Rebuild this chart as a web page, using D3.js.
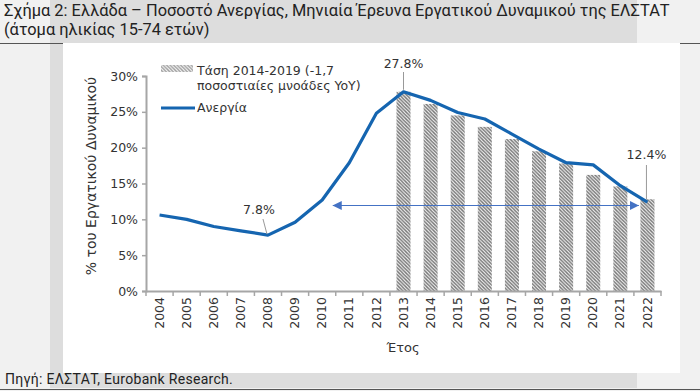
<!DOCTYPE html>
<html><head><meta charset="utf-8">
<script src="https://cdn.jsdelivr.net/npm/d3@7"></script>
<style>body{margin:0;background:#f1f1f1;}svg{display:block;}</style>
</head><body>
<svg id="c" width="700" height="391"></svg>
<script>
const years = ["2004","2005","2006","2007","2008","2009","2010","2011","2012","2013","2014","2015","2016","2017","2018","2019","2020","2021","2022"];
const unemployment = [10.6,10.0,9.0,8.4,7.8,9.6,12.7,17.9,24.8,27.8,26.6,24.9,24.0,21.9,19.8,17.9,17.6,14.7,12.4];
const trendYears = ["2013","2014","2015","2016","2017","2018","2019","2020","2021","2022"];
const trendValues = [27.8,26.1,24.5,22.9,21.2,19.5,17.8,16.2,14.6,12.8];
const yTicks = [0,5,10,15,20,25,30];
const titleLines = ["Σχήμα 2: Ελλάδα – Ποσοστό Ανεργίας, Μηνιαία Έρευνα Εργατικού Δυναμικού της ΕΛΣΤΑΤ","(άτομα ηλικίας 15-74 ετών)"];
const legendLabels = ["Τάση 2014-2019 (-1,7","ποσοστιαίες μνοάδες YoY)","Ανεργία"];
const annotations = [{year:"2013",value:27.8,label:"27.8%"},{year:"2008",value:7.8,label:"7.8%"},{year:"2022",value:12.4,label:"12.4%"}];
const arrowSpan = {from:"2011", to:"2021", value:12.0};

const svg = d3.select("#c");
const font = "DejaVu Sans, sans-serif";

// background pieces
svg.append("rect").attr("x",0).attr("y",0).attr("width",700).attr("height",391).attr("fill","#f1f1f1");
svg.append("rect").attr("x",50).attr("y",0).attr("width",587).attr("height",388).attr("fill","#dddddd");
svg.append("rect").attr("x",63).attr("y",43).attr("width",617).attr("height",330).attr("fill","#ffffff");
svg.append("line").attr("x1",0).attr("x2",63).attr("y1",43.5).attr("y2",43.5).attr("stroke","#555").attr("stroke-width",1);
svg.append("line").attr("x1",680).attr("x2",700).attr("y1",43.5).attr("y2",43.5).attr("stroke","#555").attr("stroke-width",1);
svg.append("line").attr("x1",0).attr("x2",700).attr("y1",389.5).attr("y2",389.5).attr("stroke","#555").attr("stroke-width",1);

// title
svg.append("g").selectAll("text").data(titleLines).join("text")
  .attr("x",4).attr("y",(d,i)=>15.5+i*19.5).attr("font-family","Roboto, sans-serif").attr("font-size",16.4)
  .attr("fill","#222").text(d=>d);
svg.append("text").attr("x",5).attr("y",384).attr("font-family","Roboto, sans-serif").attr("font-size",14)
  .attr("letter-spacing",0.3).attr("fill","#222").text("Πηγή: ΕΛΣΤΑΤ, Eurobank Research.");

const defs = svg.append("defs");
const pat = defs.append("pattern").attr("id","hatch").attr("patternUnits","userSpaceOnUse").attr("width",3.5).attr("height",3.5);
pat.append("path").attr("d","M0,0 L3.5,3.5 M-1,2.5 L1,4.5 M2.5,-1 L4.5,1").attr("stroke","#767676").attr("stroke-width",1.4);
const mk = (id, orient) => defs.append("marker").attr("id",id).attr("viewBox","0 0 10 10").attr("refX",10).attr("refY",5)
  .attr("markerWidth",9).attr("markerHeight",9).attr("markerUnits","userSpaceOnUse").attr("orient",orient)
  .append("path").attr("d","M0,0 L10,5 L0,10 z").attr("fill","#4472c4");
mk("arrEnd","auto"); mk("arrStart","auto-start-reverse");

const x = d3.scaleBand().domain(years).range([146,661]);
const y = d3.scaleLinear().domain([0,30]).range([291,76]);
const cx = d => x(d)+x.bandwidth()/2;

// bars
const bw = 14;
svg.append("g").selectAll("rect").data(trendYears.map((d,i)=>({year:d,v:trendValues[i]}))).join("rect")
  .attr("x",d=>cx(d.year)-bw/2).attr("width",bw).attr("y",d=>y(d.v)).attr("height",d=>y(0)-y(d.v))
  .attr("fill","url(#hatch)");

// axes
const axisCol = "#a6a6a6";
const yAxis = svg.append("g").attr("transform","translate(146,0)")
  .call(d3.axisLeft(y).tickValues(yTicks).tickFormat(d=>d+"%").tickSize(4).tickPadding(4));
const xAxis = svg.append("g").attr("transform","translate(0,291)")
  .call(d3.axisBottom(x).tickSize(0).tickPadding(6));
[yAxis,xAxis].forEach(g=>{
  g.select(".domain").attr("stroke",axisCol).attr("stroke-width",2);
  g.selectAll(".tick line").attr("stroke",axisCol).attr("stroke-width",1.5);
  g.selectAll("text").attr("font-family",font).attr("font-size",12.5).attr("fill","#333");
});
xAxis.selectAll(".tick text").attr("transform","rotate(-90)").attr("text-anchor","end").attr("dx","-6").attr("dy","0.33em").attr("x",0).attr("y",0);
// x tick marks at band boundaries
svg.append("g").selectAll("line").data(years.concat(["end"])).join("line")
  .attr("x1",(d,i)=>x.range()[0]+i*x.step()).attr("x2",(d,i)=>x.range()[0]+i*x.step())
  .attr("y1",291).attr("y2",296).attr("stroke",axisCol).attr("stroke-width",1.5);

svg.append("text").attr("x",403).attr("y",352).attr("text-anchor","middle").attr("font-family",font).attr("font-size",13).attr("fill","#333").text("Έτος");
svg.append("text").attr("transform","translate(96,176) rotate(-90)").attr("text-anchor","middle").attr("font-family",font).attr("font-size",14).attr("fill","#333").text("% του Εργατικού Δυναμικού");

// arrow
svg.append("line").attr("x1",x(arrowSpan.from)-3).attr("x2",x(arrowSpan.to)+x.bandwidth()+5)
  .attr("y1",y(arrowSpan.value)+0.5).attr("y2",y(arrowSpan.value)+0.5)
  .attr("stroke","#4472c4").attr("stroke-width",1.2)
  .attr("marker-end","url(#arrEnd)").attr("marker-start","url(#arrStart)");

// line
svg.append("path").datum(years.map((d,i)=>({year:d,v:unemployment[i]})))
  .attr("d",d3.line().x(d=>cx(d.year)).y(d=>y(d.v)))
  .attr("fill","none").attr("stroke","#1565b0").attr("stroke-width",3.2).attr("stroke-linejoin","round");

// annotations
const a13 = annotations[0], a08 = annotations[1], a22 = annotations[2];
svg.append("line").attr("x1",cx(a13.year)).attr("x2",cx(a13.year)).attr("y1",72).attr("y2",y(a13.value)-2).attr("stroke","#999").attr("stroke-width",1);
svg.append("text").attr("x",cx(a13.year)).attr("y",68).attr("text-anchor","middle").attr("font-family",font).attr("font-size",12.5).attr("fill","#333").text(a13.label);
svg.append("line").attr("x1",cx(a08.year)-5).attr("x2",cx(a08.year)-1).attr("y1",219).attr("y2",y(a08.value)-1).attr("stroke","#999").attr("stroke-width",1);
svg.append("text").attr("x",cx(a08.year)-9).attr("y",214).attr("text-anchor","middle").attr("font-family",font).attr("font-size",12.5).attr("fill","#333").text(a08.label);
svg.append("line").attr("x1",cx(a22.year)-1).attr("x2",cx(a22.year)-1).attr("y1",165).attr("y2",y(a22.value)-3).attr("stroke","#999").attr("stroke-width",1);
svg.append("text").attr("x",cx(a22.year)-1).attr("y",159).attr("text-anchor","middle").attr("font-family",font).attr("font-size",12.5).attr("fill","#333").text(a22.label);

// legend
svg.append("rect").attr("x",161).attr("y",65).attr("width",32).attr("height",7).attr("fill","url(#hatch)").attr("opacity",0.7);
svg.append("text").attr("x",197).attr("y",75).attr("font-family",font).attr("font-size",12.5).attr("fill","#333").text(legendLabels[0]);
svg.append("text").attr("x",197).attr("y",90).attr("font-family",font).attr("font-size",12.5).attr("fill","#333").text(legendLabels[1]);
svg.append("line").attr("x1",161).attr("x2",195).attr("y1",108).attr("y2",108).attr("stroke","#1565b0").attr("stroke-width",3.2);
svg.append("text").attr("x",197).attr("y",112).attr("font-family",font).attr("font-size",12.5).attr("fill","#333").text(legendLabels[2]);
</script>
</body></html>
